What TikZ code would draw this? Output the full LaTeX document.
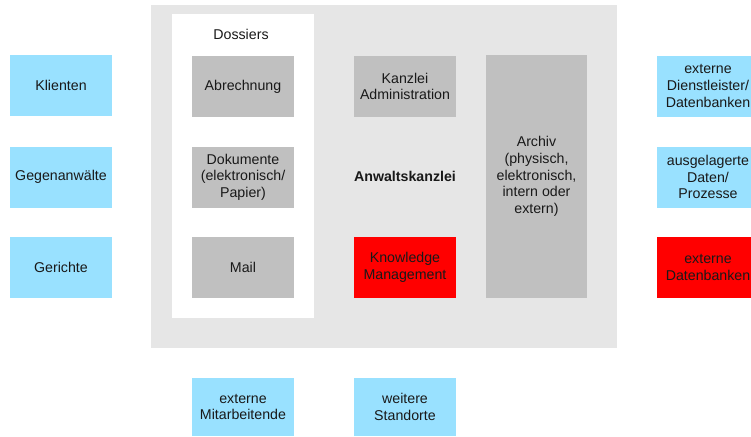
\documentclass[tikz,border=0pt]{standalone}
\usepackage{fontspec}
\setmainfont{Liberation Sans}
\begin{document}
\begin{tikzpicture}[x=1pt,y=-1pt,
  txt/.style={font=\fontsize{14.2}{16.6}\selectfont,align=center,text=black!90},
  box/.style={txt,minimum width=102pt,minimum height=61pt,inner sep=0pt},
  extbox/.style={box,fill=extblue},
  intbox/.style={box,fill=intgrey},
  kmbox/.style={box,fill=kmred}]
\definecolor{extblue}{RGB}{153,225,255}
\definecolor{intgrey}{RGB}{192,192,192}
\definecolor{kmred}{RGB}{255,0,0}
\definecolor{kanzlei}{RGB}{230,230,230}
\clip (0,0) rectangle (751,436);
\useasboundingbox (0,0) rectangle (751,436);
% firm area and dossier panel
\fill[kanzlei] (151,5) rectangle (617,348);
\fill[white] (172,14) rectangle (314,318);
\node[txt] (dossiers) at (241,34) {Dossiers};
\node[txt,font=\fontsize{14.2}{16.6}\selectfont\bfseries] (firm) at (405,176) {Anwaltskanzlei};
% left column
\node[extbox] (klienten) at (61,85.5) {Klienten};
\node[extbox] (gegen) at (61,177) {Gegenanwälte};
\node[extbox] (gerichte) at (61,267.5) {Gerichte};
% dossier contents
\node[intbox] (abr) at (243,86.5) {Abrechnung};
\node[intbox] (dok) at (243,177) {Dokumente\\(elektronisch/\\Papier)};
\node[intbox] (mail) at (243,267.5) {Mail};
% middle column
\node[intbox] (admin) at (405,86.5) {Kanzlei\\Administration};
\node[kmbox] (km) at (405,267.5) {Knowledge\\Management};
% archive
\node[intbox,minimum width=101pt,minimum height=243pt] (archiv) at (536.5,176.5) {Archiv\\(physisch,\\elektronisch,\\intern oder\\extern)};
% right column
\node[extbox] (dienst) at (708,86) {externe\\Dienstleister/\\Datenbanken};
\node[extbox] (ausgel) at (708,177) {ausgelagerte\\Daten/\\Prozesse};
\node[kmbox] (extdb) at (708,267.5) {externe\\Datenbanken};
% bottom row
\node[extbox,minimum height=58pt] (mitarb) at (243,407) {externe\\Mitarbeitende};
\node[extbox,minimum height=58pt] (standorte) at (405,407) {weitere\\Standorte};
\end{tikzpicture}
\end{document}
